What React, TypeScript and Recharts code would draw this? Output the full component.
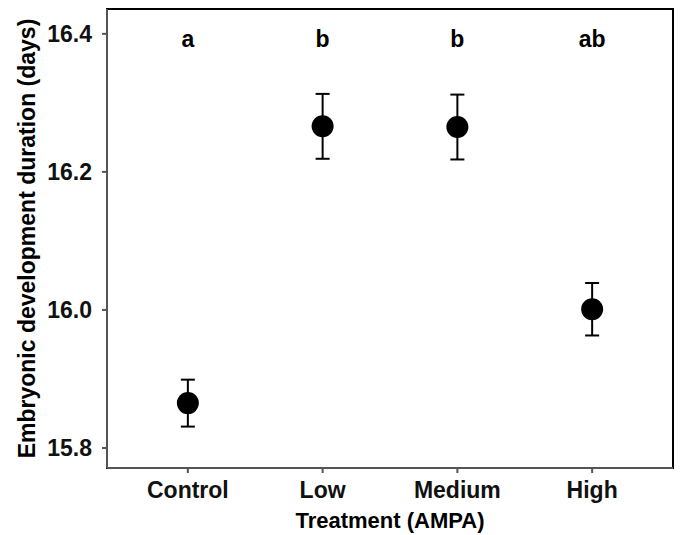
import React from "react";
import {
  ErrorBar,
  ReferenceArea,
  Scatter,
  ScatterChart,
  XAxis,
  YAxis,
  Label,
} from "recharts";

document.body.style.margin = "0";

const treatments = ["Control", "Low", "Medium", "High"];
const means = [15.865, 16.266, 16.265, 16.001];
const errors = [0.034, 0.047, 0.047, 0.038];
const letters = ["a", "b", "b", "ab"];
const yTicks = [15.8, 16.0, 16.2, 16.4];
const letterLevel = 16.4;

const points = treatments.map((name, i) => ({
  x: i + 1,
  name,
  y: means[i],
  err: errors[i],
}));

const letterData = treatments.map((name, i) => ({
  x: i + 1,
  y: letterLevel,
  letter: letters[i],
}));

const yMin = 15.771;
const yMax = 16.436;

const Dot = (props: any) => {
  const { cx, cy } = props;
  return <circle cx={cx} cy={cy} r={11} fill="#000" />;
};

const LetterMark = (props: any) => {
  const { cx, cy, payload } = props;
  return (
    <text
      x={cx}
      y={cy}
      dy={13}
      textAnchor="middle"
      fontSize={23}
      fontWeight="bold"
      fill="#000"
    >
      {payload.letter}
    </text>
  );
};

export default function App() {
  return (
    <div style={{ fontFamily: '"Liberation Sans", Arial, sans-serif' }}>
      <ScatterChart
        width={680}
        height={535}
        margin={{ top: 9, right: 7, bottom: 0, left: 0 }}
      >
        <XAxis
          type="number"
          dataKey="x"
          domain={[0.4, 4.6]}
          ticks={[1, 2, 3, 4]}
          tickFormatter={(v: number) => treatments[v - 1]}
          height={67}
          tickSize={5}
          tickMargin={9}
          stroke="#555"
          strokeWidth={2}
          tick={{ fill: "#111", fontSize: 23, fontWeight: "bold" }}
          allowDataOverflow
        >
          <Label
            value="Treatment (AMPA)"
            position="insideBottom"
            offset={7}
            style={{ fill: "#000", fontSize: 22, fontWeight: "bold" }}
          />
        </XAxis>
        <YAxis
          type="number"
          dataKey="y"
          domain={[yMin, yMax]}
          ticks={yTicks}
          tickFormatter={(v: number) => v.toFixed(1)}
          width={107}
          tickSize={5}
          tickMargin={10}
          stroke="#555"
          strokeWidth={2}
          tick={{ fill: "#111", fontSize: 23, fontWeight: "bold" }}
          allowDataOverflow
        >
          <Label
            value="Embryonic development duration (days)"
            angle={-90}
            position="insideLeft"
            offset={27}
            style={{
              fill: "#000",
              fontSize: 23,
              fontWeight: "bold",
              textAnchor: "middle",
            }}
          />
        </YAxis>
        <ReferenceArea
          x1={0.4}
          x2={4.6}
          y1={yMin}
          y2={yMax}
          fill="none"
          stroke="#000"
          strokeWidth={2}
        />
        <Scatter
          data={points}
          shape={<Dot />}
          isAnimationActive={false}
        >
          <ErrorBar
            dataKey="err"
            direction="y"
            width={7}
            stroke="#000"
            strokeWidth={2}
          />
        </Scatter>
        <Scatter
          data={letterData}
          shape={<LetterMark />}
          isAnimationActive={false}
        />
      </ScatterChart>
    </div>
  );
}
